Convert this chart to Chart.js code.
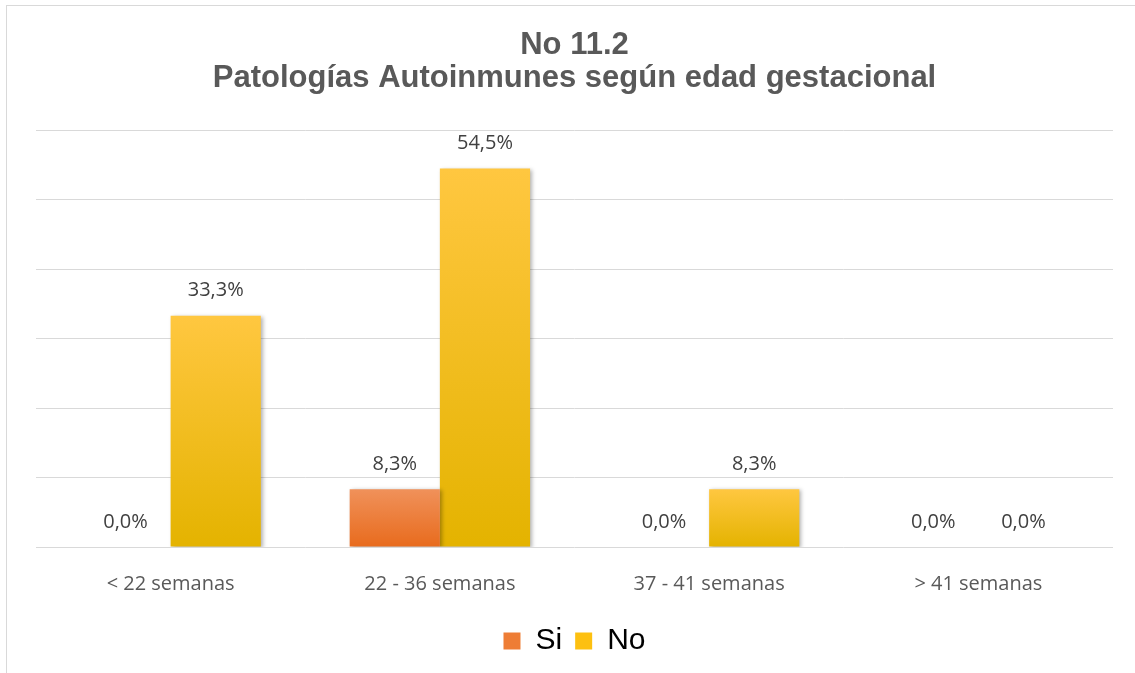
<!DOCTYPE html>
<html>
<head>
<meta charset="utf-8">
<script src="https://cdn.jsdelivr.net/npm/chart.js@4"></script>
<style>
  html, body { margin: 0; padding: 0; background: #fff; overflow: hidden; }
  #box {
    position: absolute; left: 6px; top: 5px; width: 1140px; height: 667px;
    border-left: 1px solid #d9d9d9; border-top: 1px solid #d9d9d9;
  }
  #myChart { display: block; }
</style>
</head>
<body>
<div id="box"><canvas id="myChart" width="1140" height="667"></canvas></div>
<script>
const labels = ['< 22 semanas', '22 - 36 semanas', '37 - 41 semanas', '> 41 semanas'];
const siValues = [0.0, 8.3, 0.0, 0.0];
const noValues = [33.3, 54.5, 8.3, 0.0];

// gradient from the top of each bar to the axis, like the Excel fill
function barGradient(top, bottom) {
  return function (ctx) {
    const chart = ctx.chart;
    const y = chart.scales.y;
    if (!chart.chartArea || !y || ctx.parsed == null) return bottom;
    const y0 = y.getPixelForValue(0);
    let y1 = y.getPixelForValue(ctx.parsed.y);
    if (Math.abs(y0 - y1) < 1) y1 = y0 - 1;
    const g = chart.ctx.createLinearGradient(0, y1, 0, y0);
    g.addColorStop(0, top);
    g.addColorStop(1, bottom);
    return g;
  };
}

const barShadow = {
  id: 'barShadow',
  beforeDatasetDraw(chart) {
    const c = chart.ctx;
    c.save();
    c.shadowColor = 'rgba(0,0,0,0.3)';
    c.shadowBlur = 4;
    c.shadowOffsetX = 2;
    c.shadowOffsetY = 1;
  },
  afterDatasetDraw(chart) {
    chart.ctx.restore();
  }
};

const valueLabels = {
  id: 'valueLabels',
  afterDatasetsDraw(chart) {
    const c = chart.ctx;
    c.save();
    c.font = '20px "Open Sans", sans-serif';
    c.fillStyle = '#404040';
    c.textAlign = 'center';
    c.textBaseline = 'middle';
    chart.data.datasets.forEach((ds, i) => {
      chart.getDatasetMeta(i).data.forEach((bar, j) => {
        const txt = ds.data[j].toFixed(1).replace('.', ',') + '%';
        c.fillText(txt, bar.x, bar.y - 25);
      });
    });
    c.restore();
  }
};

const data = {
  labels: labels,
  datasets: [{
    label: 'Si',
    data: siValues,
    backgroundColor: barGradient('#f0915a', '#e86b1d'),
    borderWidth: 0,
    categoryPercentage: 0.67,
    barPercentage: 1.0
  }, {
    label: 'No',
    data: noValues,
    backgroundColor: barGradient('#ffc740', '#e4b300'),
    borderWidth: 0,
    categoryPercentage: 0.67,
    barPercentage: 1.0
  }]
};

const config = {
  type: 'bar',
  data: data,
  options: {
    responsive: false,
    animation: false,
    layout: { padding: { left: 29, right: 34, top: 23, bottom: 7 } },
    plugins: {
      title: {
        display: true,
        text: ['No 11.2', 'Patologías Autoinmunes según edad gestacional'],
        color: '#595959',
        font: { family: '"Liberation Sans", Arial, sans-serif', size: 31, weight: 'bold', lineHeight: 1.07 },
        padding: { top: 0, bottom: 35 }
      },
      legend: {
        position: 'bottom',
        labels: {
          color: '#595959',
          font: { family: '"Liberation Sans", Arial, sans-serif', size: 30 },
          boxWidth: 17,
          boxHeight: 17,
          padding: 13,
          generateLabels(chart) {
            return [
              { text: 'Si', fillStyle: '#ee7d35', strokeStyle: '#ee7d35', lineWidth: 0, datasetIndex: 0 },
              { text: 'No', fillStyle: '#fdc010', strokeStyle: '#fdc010', lineWidth: 0, datasetIndex: 1 }
            ];
          }
        }
      },
      tooltip: { enabled: false }
    },
    scales: {
      x: {
        grid: { display: false },
        border: { display: false },
        ticks: {
          color: '#595959',
          font: { family: '"Open Sans", sans-serif', size: 20 },
          padding: 17
        }
      },
      y: {
        min: 0,
        max: 60,
        ticks: { stepSize: 10, display: false },
        grid: { color: '#d9d9d9', lineWidth: 1, drawTicks: false },
        border: { display: false }
      }
    }
  },
  plugins: [barShadow, valueLabels]
};

const myChart = new Chart(
  document.getElementById('myChart').getContext('2d'),
  config
);
</script>
</body>
</html>
